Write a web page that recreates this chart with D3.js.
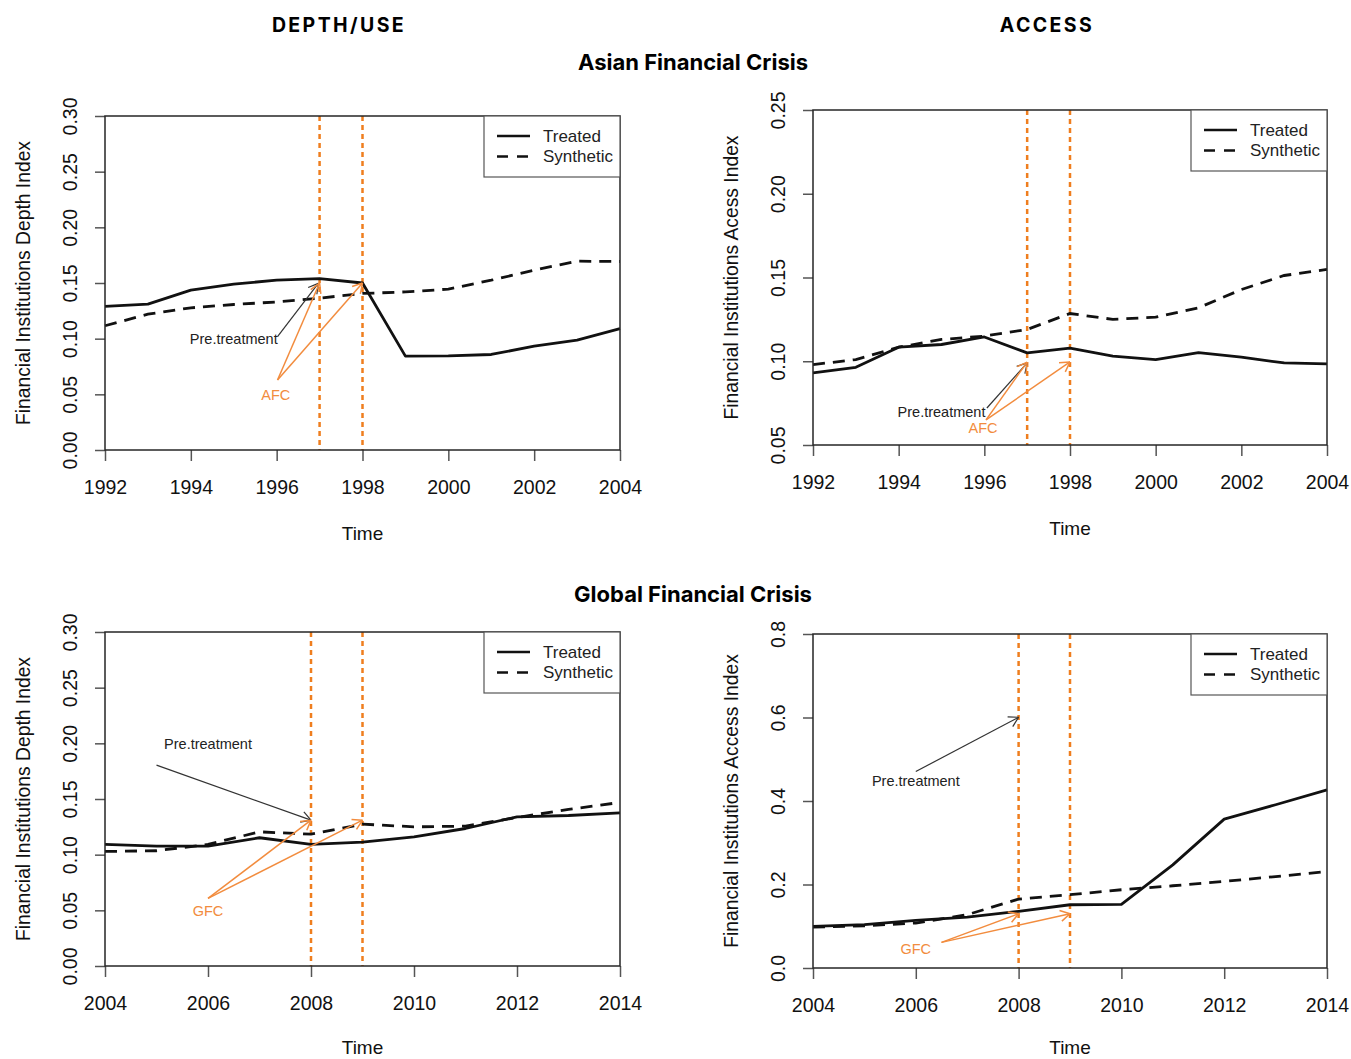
<!DOCTYPE html>
<html>
<head>
<meta charset="utf-8">
<script src="https://cdn.jsdelivr.net/npm/d3@7"></script>
<style>
  html, body { margin: 0; padding: 0; background: #fff; }
  svg { display: block; }
</style>
</head>
<body>
<svg id="chart" width="1351" height="1059"></svg>
<script>
// ---------------- DATA ----------------
const afcYears = [1992, 1993, 1994, 1995, 1996, 1997, 1998, 1999, 2000, 2001, 2002, 2003, 2004];
const gfcYears = [2004, 2005, 2006, 2007, 2008, 2009, 2010, 2011, 2012, 2013, 2014];

const afcDepthTreated   = [0.129, 0.131, 0.1436, 0.149, 0.1525, 0.154, 0.150, 0.0843, 0.0846, 0.0858, 0.0933, 0.0987, 0.109];
const afcDepthSynthetic = [0.1116, 0.122, 0.1277, 0.1307, 0.133, 0.1364, 0.1406, 0.142, 0.1445, 0.1525, 0.1615, 0.1696, 0.1693];

const afcAccessTreated   = [0.093, 0.0964, 0.1084, 0.110, 0.1145, 0.105, 0.1078, 0.103, 0.101, 0.1052, 0.1024, 0.099, 0.0984];
const afcAccessSynthetic = [0.098, 0.101, 0.1084, 0.113, 0.115, 0.119, 0.1285, 0.125, 0.1263, 0.1319, 0.1428, 0.1512, 0.1548];

const gfcDepthTreated   = [0.1092, 0.1077, 0.1077, 0.1152, 0.1092, 0.1113, 0.116, 0.1235, 0.134, 0.1352, 0.1376];
const gfcDepthSynthetic = [0.1029, 0.1035, 0.1092, 0.1205, 0.1184, 0.1274, 0.125, 0.1256, 0.1334, 0.1406, 0.1469];

const gfcAccessTreated   = [0.0997, 0.1037, 0.114, 0.122, 0.1356, 0.1515, 0.1523, 0.247, 0.3565, 0.391, 0.4267];
const gfcAccessSynthetic = [0.098, 0.101, 0.1077, 0.1276, 0.165, 0.1755, 0.1874, 0.197, 0.2074, 0.219, 0.231];

const afcXTicks = [1992, 1994, 1996, 1998, 2000, 2002, 2004];
const gfcXTicks = [2004, 2006, 2008, 2010, 2012, 2014];
const depthYTicks = [0, 0.05, 0.10, 0.15, 0.20, 0.25, 0.30];
const afcAccessYTicks = [0.05, 0.10, 0.15, 0.20, 0.25];
const gfcAccessYTicks = [0, 0.2, 0.4, 0.6, 0.8];

const afcCrisisYears = [1997, 1998];
const gfcCrisisYears = [2008, 2009];

const columnHeaders = ["DEPTH/USE", "ACCESS"];
const rowTitles = ["Asian Financial Crisis", "Global Financial Crisis"];
const legendLabels = ["Treated", "Synthetic"];
const xTitle = "Time";
const depthTitle = "Financial Institutions Depth Index";
const accessTitle = "Financial Institutions Acess Index";
const accessTitle2 = "Financial Institutions Access Index";

// annotations: [x, y] text positions, arrows [x0, y0, x1, y1]
const afcDepthPreText = [1995, 0.0997];
const afcDepthPreArrow = [1996.02, 0.1018, 1996.97, 0.1497];
const afcDepthCrisisText = [1995.98, 0.0494];
const afcDepthCrisisArrows = [[1996.02, 0.0629, 1997, 0.150], [1996.02, 0.0629, 1998, 0.150]];

const afcAccessPreText = [1995, 0.0699];
const afcAccessPreArrow = [1996.06, 0.0721, 1997, 0.099];
const afcAccessCrisisText = [1995.97, 0.0601];
const afcAccessCrisisArrows = [[1996.04, 0.065, 1997, 0.0995], [1996.04, 0.065, 1998, 0.0996]];

const gfcDepthPreText = [2006, 0.199];
const gfcDepthPreArrow = [2005, 0.1804, 2008, 0.131];
const gfcDepthCrisisText = [2006, 0.0494];
const gfcDepthCrisisArrows = [[2006, 0.0607, 2008, 0.131], [2006, 0.0607, 2009, 0.131]];

const gfcAccessPreText = [2006, 0.449];
const gfcAccessPreArrow = [2006, 0.4706, 2008, 0.6006];
const gfcAccessCrisisText = [2006, 0.0455];
const gfcAccessCrisisArrows = [[2006.5, 0.0614, 2008, 0.13], [2006.5, 0.0614, 2009, 0.13]];

// ---------------- DRAWING ----------------
const svg = d3.select("#chart");
const ORANGE_LINE = "#EF7E1E";
const ORANGE_ARROW = "#F28C3E";
const AXIS_COLOR = "#262626";
const RFONT = "'Liberation Sans', Arial, Helvetica, sans-serif";
const HFONT = "Inter, 'Open Sans', 'Noto Sans', sans-serif";

// headers
svg.selectAll("text.colhead").data(columnHeaders).enter().append("text")
  .attr("class", "colhead")
  .attr("x", (d, i) => i === 0 ? 339 : 1047)
  .attr("y", 32)
  .attr("text-anchor", "middle")
  .style("font-family", HFONT).style("font-weight", 700).style("font-size", "19.5px")
  .style("letter-spacing", "2.4px")
  .text(d => d);

svg.selectAll("text.rowtitle").data(rowTitles).enter().append("text")
  .attr("class", "rowtitle")
  .attr("x", 693)
  .attr("y", (d, i) => i === 0 ? 70 : 602)
  .attr("text-anchor", "middle")
  .style("font-family", HFONT).style("font-weight", 700).style("font-size", "22px")
  .text(d => d);

function drawPanel(cfg) {
  const g = svg.append("g");
  const x = d3.scaleLinear().domain(cfg.xDomain).range([cfg.left, cfg.right]);
  const y = d3.scaleLinear().domain(cfg.yDomain).range([cfg.bottom, cfg.top]);

  // x axis
  const xAxis = d3.axisBottom(x).tickValues(cfg.xTicks).tickFormat(d3.format("d")).tickSize(11).tickPadding(19);
  const gx = g.append("g").attr("transform", `translate(0,${cfg.bottom})`).call(xAxis);
  gx.select(".domain").remove();
  gx.selectAll(".tick line").attr("stroke", "#555").attr("stroke-width", 1.5);
  gx.selectAll(".tick text").style("font-family", RFONT).style("font-size", "19.5px").attr("fill", "#111");

  // y axis
  const yAxis = d3.axisLeft(y).tickValues(cfg.yTicks).tickFormat(d3.format(cfg.yFormat)).tickSize(10).tickPadding(0);
  const gy = g.append("g").attr("transform", `translate(${cfg.left},0)`).call(yAxis);
  gy.select(".domain").remove();
  gy.selectAll(".tick line").attr("stroke", "#555").attr("stroke-width", 1.5);
  gy.selectAll(".tick text")
    .attr("x", 0).attr("dy", null)
    .attr("transform", "translate(-35,0) rotate(-90)")
    .attr("text-anchor", "middle")
    .attr("dominant-baseline", "central")
    .style("font-family", RFONT).style("font-size", "19.5px").attr("fill", "#111");

  // crisis vertical lines
  g.selectAll("line.crisis").data(cfg.crisis).enter().append("line")
    .attr("x1", d => x(d)).attr("x2", d => x(d))
    .attr("y1", cfg.top).attr("y2", cfg.bottom)
    .attr("stroke", ORANGE_LINE).attr("stroke-width", 2.5)
    .attr("stroke-dasharray", "5,4");

  // series lines
  const line = d3.line().x(d => x(d[0])).y(d => y(d[1]));
  const treated = cfg.years.map((yr, i) => [yr, cfg.treated[i]]);
  const synthetic = cfg.years.map((yr, i) => [yr, cfg.synthetic[i]]);
  g.append("path").datum(synthetic).attr("d", line)
    .attr("fill", "none").attr("stroke", "#111").attr("stroke-width", 2.8)
    .attr("stroke-dasharray", "12,8");
  g.append("path").datum(treated).attr("d", line)
    .attr("fill", "none").attr("stroke", "#111").attr("stroke-width", 2.8)
    .attr("stroke-linejoin", "round");

  // frame
  g.append("rect")
    .attr("x", cfg.left).attr("y", cfg.top)
    .attr("width", cfg.right - cfg.left).attr("height", cfg.bottom - cfg.top)
    .attr("fill", "none").attr("stroke", AXIS_COLOR).attr("stroke-width", 1.5);

  // arrows
  function arrow(a, color, w) {
    const x0 = x(a[0]), y0 = y(a[1]), x1 = x(a[2]), y1 = y(a[3]);
    g.append("line").attr("x1", x0).attr("y1", y0).attr("x2", x1).attr("y2", y1)
      .attr("stroke", color).attr("stroke-width", w);
    const ang = Math.atan2(y1 - y0, x1 - x0);
    const L = 11, spread = Math.PI / 6;
    [ang + Math.PI - spread, ang + Math.PI + spread].forEach(t => {
      g.append("line").attr("x1", x1).attr("y1", y1)
        .attr("x2", x1 + L * Math.cos(t)).attr("y2", y1 + L * Math.sin(t))
        .attr("stroke", color).attr("stroke-width", w);
    });
  }
  arrow(cfg.preArrow, "#333", 1.2);
  cfg.crisisArrows.forEach(a => arrow(a, ORANGE_ARROW, 1.5));

  g.append("text").attr("x", x(cfg.preText[0])).attr("y", y(cfg.preText[1]))
    .attr("text-anchor", "middle").attr("dominant-baseline", "central")
    .style("font-family", RFONT).style("font-size", "14.5px").attr("fill", "#222")
    .text("Pre.treatment");
  g.append("text").attr("x", x(cfg.crisisText[0])).attr("y", y(cfg.crisisText[1]))
    .attr("text-anchor", "middle").attr("dominant-baseline", "central")
    .style("font-family", RFONT).style("font-size", "14.5px").attr("fill", ORANGE_ARROW)
    .text(cfg.crisisLabel);

  // legend
  const lx = cfg.right - 136, ly = cfg.top, lh = 61;
  g.append("rect").attr("x", lx).attr("y", ly).attr("width", 136).attr("height", lh)
    .attr("fill", "#fff").attr("stroke", "#555").attr("stroke-width", 1.2);
  legendLabels.forEach((lab, i) => {
    const yy = ly + 20 + i * 20.5;
    g.append("line").attr("x1", lx + 13).attr("x2", lx + 46).attr("y1", yy).attr("y2", yy)
      .attr("stroke", "#111").attr("stroke-width", 2.6)
      .attr("stroke-dasharray", i === 1 ? "11,9" : null);
    g.append("text").attr("x", lx + 59).attr("y", yy).attr("dominant-baseline", "central")
      .style("font-family", RFONT).style("font-size", "17px").attr("fill", "#222").text(lab);
  });

  // axis titles
  g.append("text").attr("x", (cfg.left + cfg.right) / 2).attr("y", Math.min(cfg.bottom + 83, 1047))
    .attr("text-anchor", "middle").attr("dominant-baseline", "central")
    .style("font-family", RFONT).style("font-size", "19px").attr("fill", "#111").text(xTitle);
  g.append("text")
    .attr("transform", `translate(${cfg.left - 82},${(cfg.top + cfg.bottom) / 2}) rotate(-90)`)
    .attr("text-anchor", "middle").attr("dominant-baseline", "central")
    .style("font-family", RFONT).style("font-size", "19.3px").attr("fill", "#111").text(cfg.yTitle);
}

drawPanel({
  left: 105, right: 620, top: 116, bottom: 450,
  xDomain: [1992, 2004], yDomain: [0, 0.30],
  xTicks: afcXTicks, yTicks: depthYTicks, yFormat: ".2f",
  years: afcYears, treated: afcDepthTreated, synthetic: afcDepthSynthetic,
  crisis: afcCrisisYears, crisisLabel: "AFC",
  preText: afcDepthPreText, preArrow: afcDepthPreArrow,
  crisisText: afcDepthCrisisText, crisisArrows: afcDepthCrisisArrows,
  yTitle: depthTitle
});
drawPanel({
  left: 813, right: 1327, top: 110, bottom: 445,
  xDomain: [1992, 2004], yDomain: [0.05, 0.25],
  xTicks: afcXTicks, yTicks: afcAccessYTicks, yFormat: ".2f",
  years: afcYears, treated: afcAccessTreated, synthetic: afcAccessSynthetic,
  crisis: afcCrisisYears, crisisLabel: "AFC",
  preText: afcAccessPreText, preArrow: afcAccessPreArrow,
  crisisText: afcAccessCrisisText, crisisArrows: afcAccessCrisisArrows,
  yTitle: accessTitle
});
drawPanel({
  left: 105, right: 620, top: 632, bottom: 966,
  xDomain: [2004, 2014], yDomain: [0, 0.30],
  xTicks: gfcXTicks, yTicks: depthYTicks, yFormat: ".2f",
  years: gfcYears, treated: gfcDepthTreated, synthetic: gfcDepthSynthetic,
  crisis: gfcCrisisYears, crisisLabel: "GFC",
  preText: gfcDepthPreText, preArrow: gfcDepthPreArrow,
  crisisText: gfcDepthCrisisText, crisisArrows: gfcDepthCrisisArrows,
  yTitle: depthTitle
});
drawPanel({
  left: 813, right: 1327, top: 634, bottom: 968,
  xDomain: [2004, 2014], yDomain: [0, 0.8],
  xTicks: gfcXTicks, yTicks: gfcAccessYTicks, yFormat: ".1f",
  years: gfcYears, treated: gfcAccessTreated, synthetic: gfcAccessSynthetic,
  crisis: gfcCrisisYears, crisisLabel: "GFC",
  preText: gfcAccessPreText, preArrow: gfcAccessPreArrow,
  crisisText: gfcAccessCrisisText, crisisArrows: gfcAccessCrisisArrows,
  yTitle: accessTitle2
});
</script>
</body>
</html>
